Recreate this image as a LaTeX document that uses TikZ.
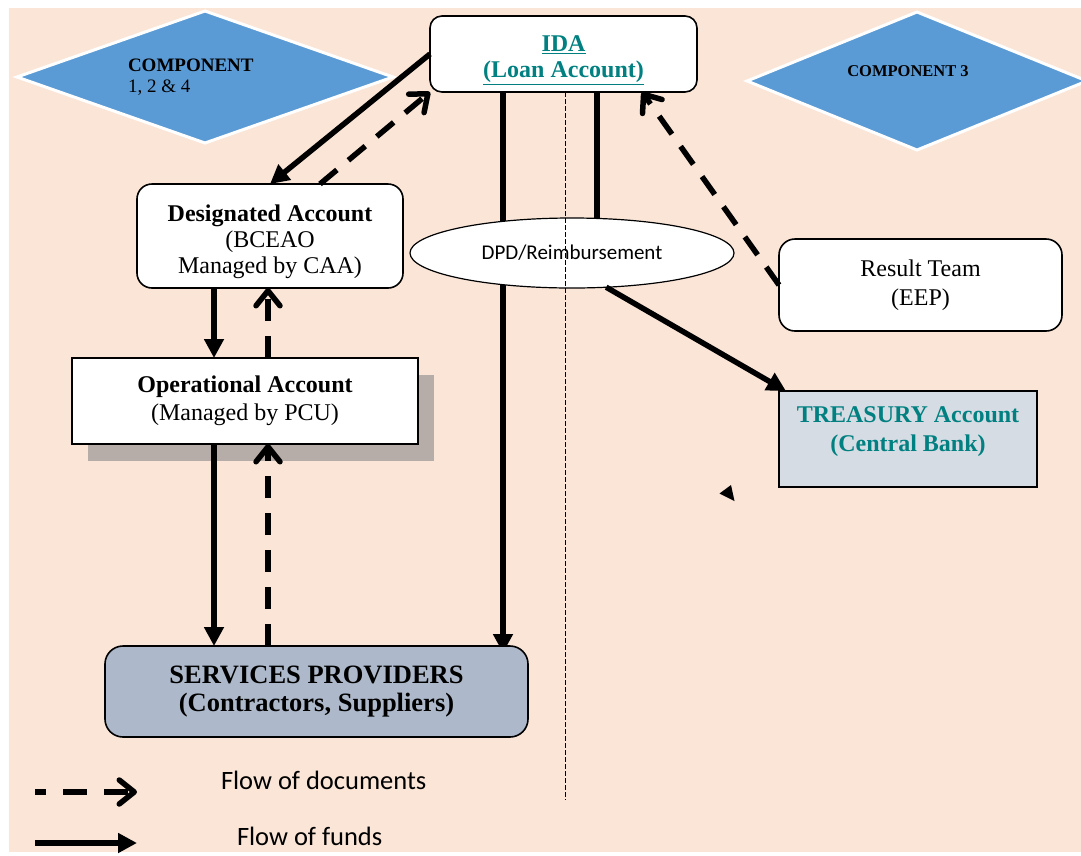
\documentclass[tikz,border=0pt]{standalone}
\usepackage{fontspec}
\setmainfont{Liberation Serif}
\newfontfamily\calfont{Carlito}
\usetikzlibrary{arrows.meta,shapes.geometric,shadows,calc}
\definecolor{peach}{RGB}{250,229,215}
\definecolor{compblue}{RGB}{91,155,213}
\definecolor{tealtxt}{RGB}{0,128,128}
\definecolor{spfill}{RGB}{173,185,202}
\definecolor{trfill}{RGB}{214,220,228}
\definecolor{shadowgray}{RGB}{183,173,168}
\pgfdeclarelayer{bg}
\pgfdeclarelayer{under}
\pgfsetlayers{bg,under,main}
\begin{document}
\begin{tikzpicture}[x=1pt,y=-1pt,
  every node/.style={inner sep=0pt, outer sep=0pt},
  fund/.style={line width=5.5pt, -{Triangle[length=19pt,width=19pt]}},
  doc/.style={line width=5.5pt, dash pattern=on 22pt off 15pt, -{Straight Barb[length=15pt,width=24pt,round]}},
  plain/.style={line width=5.5pt},
  comp/.style={diamond, draw=white, line width=3pt, fill=compblue},
  roundbox/.style={draw, line width=1.6pt, fill=white, align=center, rounded corners=14pt,
     font=\fontsize{24}{26}\selectfont},
  sqbox/.style={draw, line width=1.6pt, fill=white, align=center,
     font=\fontsize{24}{28}\selectfont},
  guide/.style={line width=1pt, dash pattern=on 5pt off 2pt},
  legendtext/.style={font=\calfont\fontsize{26.5}{30}\selectfont, anchor=west}
]
\useasboundingbox (0,0) rectangle (1081,855);
\begin{pgfonlayer}{bg}
  \fill[peach] (9,8) rectangle (1081,852);
\end{pgfonlayer}

% components
\node[comp, minimum width=376pt, minimum height=132pt] (c1) at (205,77) {};
\node[anchor=west, align=left, font=\fontsize{19}{21}\selectfont] (c1t) at (128,77) {\textbf{COMPONENT}\\1, 2 \& 4};
\node[comp, minimum width=340pt, minimum height=138pt] (c3) at (917,81) {};
\node[font=\bfseries\fontsize{16.5}{19}\selectfont] (c3t) at (908,71) {COMPONENT 3};

% boxes
\node[roundbox, minimum width=267pt, minimum height=76pt, rounded corners=12pt,
  font=\bfseries\fontsize{24}{26}\selectfont, text=tealtxt] (ida) at (563.5,54)
  {\rule{0pt}{28pt}\underline{IDA}\\\underline{(Loan Account)}};
\node[roundbox, minimum width=266pt, minimum height=104pt, rounded corners=15pt] (des) at (270,236)
  {\rule{0pt}{28pt}\textbf{Designated Account}\\(BCEAO\\Managed by CAA)};
\node[sqbox, minimum width=346pt, minimum height=86pt,
  drop shadow={shadow xshift=16pt, shadow yshift=-17pt, fill=shadowgray, opacity=1}] (op) at (245,401)
  {\textbf{Operational Account}\\(Managed by PCU)};
\node[ellipse, draw, line width=1.2pt, fill=white, minimum width=324pt, minimum height=70pt,
  font=\calfont\fontsize{21}{25}\selectfont] (ell) at (572,253) {DPD/Reimbursement};
\node[roundbox, minimum width=283pt, minimum height=92pt, rounded corners=16pt,
  font=\fontsize{24}{29}\selectfont] (rt) at (920.5,285) {Result Team\\(EEP)};
\node[draw, line width=2.4pt, fill=trfill, minimum width=258pt, minimum height=96pt] (tr) at (908,439) {};
\node[align=center, text=tealtxt, font=\bfseries\fontsize{24}{29}\selectfont] (trt) at (908,432)
  {TREASURY Account\\(Central Bank)};
\node[draw, line width=1.6pt, rounded corners=18pt, fill=spfill, minimum width=423pt, minimum height=91pt,
  align=center, font=\bfseries\fontsize{26.5}{28}\selectfont] (sp) at (316.5,691.5)
  {SERVICES PROVIDERS\\(Contractors, Suppliers)};

% connectors
\begin{pgfonlayer}{under}
  \draw[fund] ([xshift=-60.5pt]ida.south) -- ([xshift=186.5pt,yshift=-7pt]sp.north);
\end{pgfonlayer}
\draw[fund] (ida.west) -- (des.north);
\draw[doc] ([xshift=50pt]des.north) -- (ida.south west);
\draw[fund] ([xshift=-56pt]des.south) -- ([xshift=-31pt]op.north);
\draw[doc] ([xshift=23pt]op.north) -- ([xshift=-2pt]des.south);
\draw[fund] ([xshift=-31pt]op.south) -- ([xshift=-102.5pt]sp.north);
\draw[doc] ([xshift=-48.5pt]sp.north) -- ([xshift=23pt]op.south);
\draw[plain] ([xshift=33.5pt]ida.south) -- ([xshift=25pt]ell.north);
\draw[fund] (ell.-45) -- ([xshift=7pt]tr.north west);
\draw[doc] (rt.west) -- ([xshift=-55pt]ida.south east);

\coordinate (dend) at (565.5,800);
\draw[guide] ([xshift=2pt]ida.south) -- (dend);

% stray arrow head
\fill (719.5,493.5) -- (731,485) -- (734.5,501) -- cycle;

% legend
\coordinate (l1a) at (35,792);
\coordinate (l1b) at (137,792);
\coordinate (l2a) at (35,843);
\coordinate (l2b) at (137,843);
\draw[doc, dash pattern=on 24pt off 17pt, dash phase=13pt] (l1a) -- (l1b);
\draw[fund] (l2a) -- (l2b);
\node[legendtext] (lt1) at (221,780) {Flow of documents};
\node[legendtext] (lt2) at (237,836) {Flow of funds};
\end{tikzpicture}
\end{document}
